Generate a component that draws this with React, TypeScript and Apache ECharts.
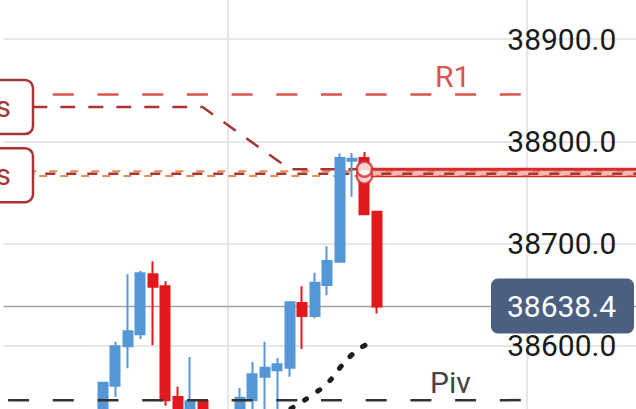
import React, { useEffect, useRef } from 'react';
import * as echarts from 'echarts';

const categories: string[] = Array.from({ length: 52 }, (_, i) => 'T' + i);

// [open, close, low, high]
const candles: number[][] = [
  [38520, 38510, 38500, 38528],
  [38510, 38518, 38505, 38525],
  [38518, 38508, 38500, 38526],
  [38508, 38515, 38502, 38522],
  [38515, 38522, 38510, 38530],
  [38522, 38512, 38506, 38528],
  [38512, 38505, 38498, 38518],
  [38505, 38520, 38500, 38526],
  [38520, 38563.7, 38515, 38564.2],
  [38560.8, 38599.6, 38550.0, 38603.8],
  [38599.6, 38614.3, 38578.1, 38670.0],
  [38611.3, 38671.0, 38606.5, 38673.3],
  [38670.0, 38657.6, 38600.6, 38682.7],
  [38658.3, 38546.8, 38541.2, 38663.2],
  [38550.0, 38530, 38525, 38559.8],
  [38528, 38545.8, 38520, 38589.1],
  [38545.8, 38532, 38525, 38546.5],
  [38530, 38522, 38512, 38535],
  [38522, 38528, 38515, 38536],
  [38530, 38549.1, 38522, 38558.8],
  [38546.8, 38572.2, 38535, 38584.0],
  [38569.6, 38578.4, 38530, 38603.8],
  [38576.1, 38582.0, 38535, 38587.9],
  [38578.4, 38642.6, 38569.6, 38643.5],
  [38641.7, 38629.0, 38596.7, 38658.3],
  [38629.0, 38661.5, 38627.0, 38671.3],
  [38659.3, 38683.0, 38649.5, 38697.4],
  [38682.1, 38783.5, 38682.0, 38788.1],
  [38781.0, 38783.0, 38745.6, 38788.4],
  [38783.5, 38728.7, 38727.7, 38789.6],
  [38731.0, 38638.4, 38631.6, 38731.6],
];

const lastPrice = 38638.4;
const r1Level = 38845.8;
const pivLevel = 38546.8;
const orderLevel = 38833.4;
const targetLevel = 38772.7;
const bandLevel = 38769.3;
const entryLevel = 38768.3;
const entryUpper = 38770.6;
const entryLower = 38765.9;
const yTickStep = 100;

const orderPath: number[][] = [
  [2, orderLevel],
  [16, orderLevel],
  [23, targetLevel],
  [29, targetLevel],
];

const maPoints: number[][] = [
  [22, 38530.0],
  [23, 38537.8],
  [24, 38545.3],
  [25, 38553.6],
  [26, 38562.9],
  [27, 38578.1],
  [28, 38591.3],
  [29, 38600.2],
  [30, 38606.0],
];

const BLUE = '#5597d6';
const RED = '#e0191d';
const DARKRED = '#a93434';
const ORANGE = '#ec8a52';
const FONT = 'Roboto';

function seg(v: number, from: number, to: number) {
  return [
    [from, v],
    [to, v],
  ];
}

export default function App() {
  const ref = useRef<HTMLDivElement>(null);

  useEffect(() => {
    document.body.style.margin = '0';
    if (!ref.current) return;
    const chart = echarts.init(ref.current, null, { renderer: 'svg' });

    const lineBase = (data: any, color: string, width: number, type: any, z: number, extra: any = {}) => ({
      type: 'line',
      data,
      symbol: 'none',
      silent: true,
      z,
      lineStyle: { color, width, type, ...extra },
    });

    const option: any = {
      animation: false,
      grid: { left: 3.4, top: -63.25, width: 634.95, height: 511.25, containLabel: false, outerBoundsMode: 'none' },
      xAxis: {
        type: 'category',
        data: categories,
        boundaryGap: false,
        axisLine: { show: false },
        axisTick: { show: false },
        axisLabel: { show: false },
        splitLine: {
          show: true,
          interval: (i: number) => i === 18 || i === 42,
          lineStyle: { color: '#e7e7e7', width: 2 },
        },
      },
      yAxis: {
        type: 'value',
        position: 'right',
        min: 38500,
        max: 39000,
        interval: yTickStep,
        axisLine: { show: false },
        axisTick: { show: false },
        axisLabel: {
          inside: true,
          margin: 22,
          fontSize: 30,
          fontFamily: FONT,
          color: '#1a1a1a',
          showMinLabel: false,
          showMaxLabel: false,
          formatter: (v: number) => v.toFixed(1),
        },
        splitLine: { lineStyle: { color: '#e7e7e7', width: 2 } },
      },
      series: [
        lineBase(seg(lastPrice, 0, 51), '#a3a3a3', 1.5, 'solid', 1),
        lineBase(seg(bandLevel, 29, 51), '#f3b9b9', 6, 'solid', 1),
        lineBase(seg(entryUpper, 2, 51), ORANGE, 2, [8, 13], 1),
        lineBase(seg(entryLower, 2, 51), ORANGE, 2, [8, 13], 1, { dashOffset: 10 }),
        lineBase(seg(entryLevel, 2, 51), DARKRED, 2.5, [10, 11], 1, { dashOffset: 4 }),
        lineBase(orderPath, DARKRED, 2.5, [15, 13], 1, { dashOffset: 24.3 }),
        lineBase(seg(targetLevel, 29, 51), '#d52b2b', 3, 'solid', 1),
        lineBase(seg(entryLower - 0.3, 29, 51), '#d52b2b', 1.5, 'solid', 1),
        {
          type: 'candlestick',
          data: candles,
          barWidth: 9.5,
          z: 2,
          silent: true,
          itemStyle: {
            color: BLUE,
            color0: RED,
            borderColor: BLUE,
            borderColor0: RED,
            borderWidth: 2,
          },
        },
        lineBase(seg(pivLevel, 0, 42), '#333333', 2.5, [21, 23.7], 3, { dashOffset: 40 }),
        lineBase(seg(r1Level, 0, 42), '#d9534f', 2.5, [21, 23.7], 3, { dashOffset: 40 }),
        {
          type: 'line',
          data: maPoints,
          smooth: true,
          symbol: 'none',
          silent: true,
          z: 3,
          lineStyle: { color: '#1e1e1e', width: 5, type: [2.5, 13.5], cap: 'round' },
        },
        {
          type: 'scatter',
          data: [[29, entryLower]],
          symbol: 'circle',
          symbolSize: 15,
          z: 4,
          silent: true,
          itemStyle: { color: '#ffffff', borderColor: '#d52b2b', borderWidth: 2.5 },
        },
        {
          type: 'scatter',
          data: [[29, targetLevel]],
          symbol: 'circle',
          symbolSize: 15,
          z: 5,
          silent: true,
          itemStyle: { color: '#ffffff', borderColor: '#d52b2b', borderWidth: 2.5 },
        },
      ],
    };

    chart.setOption(option);

    const py = (v: number) => chart.convertToPixel({ yAxisIndex: 0 }, v) as number;
    const yA = py(orderLevel);
    const yB = py(entryLevel) + 1.5;
    const yR1 = py(r1Level);
    const yPiv = py(pivLevel);
    const yLast = py(lastPrice);

    const txt = (text: string, x: number, y: number, fill: string, align: string) => ({
      type: 'text',
      z: 100,
      silent: true,
      style: {
        text,
        x,
        y,
        fill,
        font: `30px ${FONT}`,
        fontSize: 30,
        fontFamily: FONT,
        align,
        textAlign: align,
        verticalAlign: 'middle',
        textVerticalAlign: 'middle',
      },
    });

    chart.setOption({
      graphic: [
        {
          type: 'rect',
          z: 100,
          silent: true,
          shape: { x: -20, y: yA - 27, width: 53, height: 54, r: 8 },
          style: { fill: '#ffffff', stroke: DARKRED, lineWidth: 2.5 },
        },
        txt('s', 11, yA - 0.5, DARKRED, 'right'),
        {
          type: 'rect',
          z: 100,
          silent: true,
          shape: { x: -20, y: yB - 27, width: 53, height: 54, r: 8 },
          style: { fill: '#ffffff', stroke: DARKRED, lineWidth: 2.5 },
        },
        txt('s', 11, yB - 1, DARKRED, 'right'),
        txt('R1', 435, yR1 - 18.3, '#d9534f', 'left'),
        txt('Piv', 430, yPiv - 17.5, '#444444', 'left'),
        {
          type: 'rect',
          z: 100,
          silent: true,
          shape: { x: 491, y: yLast - 28, width: 143, height: 55, r: 7 },
          style: { fill: '#4b5f80' },
        },
        txt(lastPrice.toFixed(1), 616, yLast + 0.5, '#ffffff', 'right'),
      ],
    });

    return () => chart.dispose();
  }, []);

  return (
    <div
      ref={ref}
      style={{ position: 'absolute', left: 0, top: 0, width: 636, height: 409, background: '#ffffff' }}
    />
  );
}
